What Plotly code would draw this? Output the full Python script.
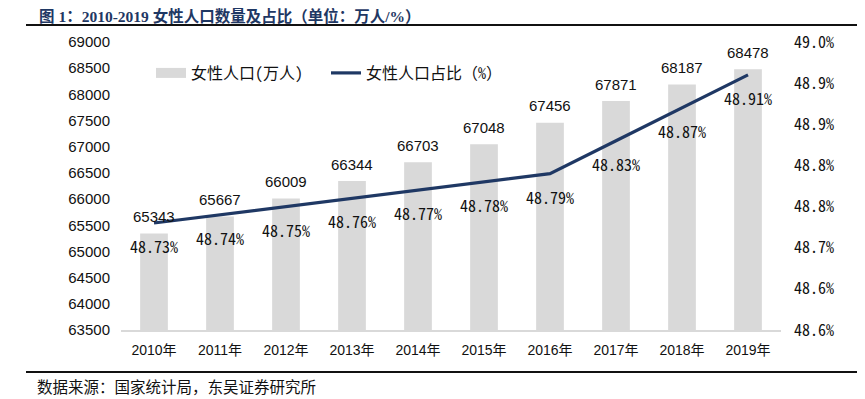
import plotly.graph_objects as go

years = ["2010年", "2011年", "2012年", "2013年", "2014年", "2015年", "2016年", "2017年", "2018年", "2019年"]
female_pop = [65343, 65667, 66009, 66344, 66703, 67048, 67456, 67871, 68187, 68478]
female_share = [48.73, 48.74, 48.75, 48.76, 48.77, 48.78, 48.79, 48.83, 48.87, 48.91]

# The page body has an 8px default margin; work in reference pixels and shift.
OFF = 8
W, H = 865 - OFF, 399 - OFF
PL, PR, PT, PB = 121, 781, 42, 330  # plot area in reference pixels
L, T = PL - OFF, PT - OFF
R = W - (PR - OFF)
B = H - (PB - OFF)
pw, ph = PR - PL, PB - PT

def px(x):
    return (x - PL) / pw

def py(y):
    return (PB - y) / ph

sans = "Liberation Sans, Noto Sans CJK SC, sans-serif"
cjk = "Noto Sans CJK SC, sans-serif"
mono = "Noto Sans Mono CJK SC, DejaVu Sans Mono, monospace"
BAR_C = "#d9d9d9"
LINE_C = "#1f3864"

fig = go.Figure()
fig.add_trace(go.Bar(
    x=years, y=female_pop, name="女性人口(万人)",
    marker=dict(color=BAR_C, line=dict(width=0)),
    width=0.42, yaxis="y", showlegend=False, legendgroup="pop",
))
# legend entry for the bars (wide grey swatch like the reference)
fig.add_trace(go.Scatter(
    x=[years[0]], y=[None], name="女性人口(万人)", mode="lines",
    line=dict(color=BAR_C, width=10), yaxis="y", legendgroup="pop",
))
fig.add_trace(go.Scatter(
    x=years, y=female_share, name="女性人口占比（%）",
    mode="lines", line=dict(color=LINE_C, width=3.2),
    yaxis="y2",
))

annotations = []
for yr, v in zip(years, female_pop):
    annotations.append(dict(x=yr, y=v, xref="x", yref="y", text=str(v), showarrow=False,
                            yanchor="middle", yshift=17, font=dict(family=sans, size=15, color="#111111")))
for yr, v in zip(years, female_share):
    annotations.append(dict(x=yr, y=v, xref="x", yref="y2", text=f"{v:.2f}%", showarrow=False,
                            yanchor="middle", yshift=-23, font=dict(family=mono, size=16, color="#111111")))

annotations.append(dict(x=px(37), y=py(16), xref="paper", yref="paper", xanchor="left", yanchor="middle",
                        text="<b>图 1：2010-2019 女性人口数量及占比（单位：万人/%）</b>", showarrow=False,
                        font=dict(family="Liberation Serif, Noto Sans CJK SC, serif", size=15.5, color="#1f3864")))
annotations.append(dict(x=px(35), y=py(386), xref="paper", yref="paper", xanchor="left", yanchor="middle",
                        text="数据来源：国家统计局，东吴证券研究所", showarrow=False,
                        font=dict(family=cjk, size=15.5, color="#111111")))

shapes = [
    dict(type="line", xref="paper", yref="paper", x0=px(26), x1=px(880), y0=py(25), y1=py(25),
         line=dict(color="#111111", width=2)),
    dict(type="line", xref="paper", yref="paper", x0=px(26), x1=px(880), y0=py(372), y1=py(372),
         line=dict(color="#111111", width=2)),
]

fig.update_layout(
    width=W, height=H,
    margin=dict(l=L, r=R, t=T, b=B, autoexpand=False),
    paper_bgcolor="white", plot_bgcolor="white",
    showlegend=True,
    legend=dict(orientation="h", x=px(151), y=py(73), xanchor="left", yanchor="middle",
                font=dict(family=mono, size=16, color="#111111"), itemwidth=30,
                entrywidth=130, entrywidthmode="pixels",
                bgcolor="rgba(0,0,0,0)", traceorder="normal"),
    xaxis=dict(type="category", showline=True, linecolor=BAR_C, linewidth=2,
               showgrid=False, ticks="", tickfont=dict(family=sans, size=14, color="#111111"),
               ticklabelstandoff=6),
    yaxis=dict(range=[63500, 69000], dtick=500, showgrid=False, showline=False, zeroline=False,
               ticks="", tickformat="d", tickfont=dict(family=sans, size=15, color="#111111"),
               ticklabelstandoff=10),
    yaxis2=dict(range=[48.6, 48.95], dtick=0.05, tick0=48.6, overlaying="y", side="right",
                showgrid=False, showline=False, zeroline=False, ticks="",
                tickformat=".1f", ticksuffix="%", tickfont=dict(family=mono, size=16, color="#111111"),
                ticklabelstandoff=12),
    annotations=annotations,
    shapes=shapes,
)

fig.write_html("out.html")
